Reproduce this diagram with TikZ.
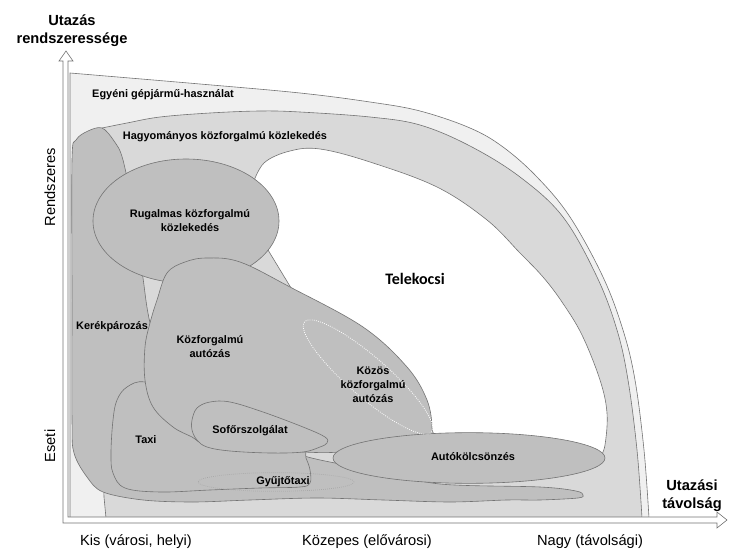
\documentclass[tikz,border=0pt]{standalone}
\usepackage{fontspec}
\setmainfont{Liberation Sans}
\newfontfamily\telefont{Carlito}
\usetikzlibrary{positioning}

\begin{document}
\begin{tikzpicture}[x=0.75pt,y=-0.75pt,
    region/.style={draw=black!55, line width=0.45pt},
    blob/.style={region, fill=black!25},
    lbl/.style={font=\bfseries\fontsize{8.2}{10.5}\selectfont, align=center, inner sep=0pt},
    axislbl/.style={font=\fontsize{11}{13}\selectfont, inner sep=0pt},
    axistitle/.style={font=\bfseries\fontsize{11}{13.5}\selectfont, align=center, inner sep=0pt}]
\useasboundingbox (0,0) rectangle (740,556);

% layers, back to front
\draw[region, fill=black!6] plot[smooth, tension=0.6] coordinates {(70,73) (200,84) (300,93) (370,102) (420,111) (470,128) (503,147) (537,177) (570,217) (603,277) (623,330) (635,380) (644,450) (649,518)} -- (70,518) -- cycle;
\draw[region, fill=black!15] plot[smooth, tension=0.6] coordinates {(102,128) (127,123) (160,117) (210,113) (260,111) (300,112) (370,117) (420,125) (470,146) (520,177) (563,217) (597,277) (617,330) (628,380) (637,450) (642,518)} -- (106,518) -- (104,497) -- (98,300) -- cycle;
\draw[region, fill=white] plot[smooth, tension=0.6] coordinates {(252,186) (264,163) (290,151) (320,149) (370,162) (437,187) (487,220) (520,253) (543,277) (562,302) (582,335) (600,380) (607,413) (605,445) (600,458)} -- (430,450) -- (380,420) -- (302,306) -- (268,250) -- (245,215) -- cycle;

\draw[blob] plot[smooth cycle, tension=0.55] coordinates {(102,128) (114,141) (123,160) (135,220) (143,278) (150,323) (170,400) (250,440) (304,456) (335,463) (380,471) (440,484) (540,487) (576,491) (583,495) (578,498) (540,500) (507,500) (450,502) (383,500) (317,498) (250,500) (193,502) (143,500) (103,492) (87,477) (74,453) (72,420) (72,300) (72,160) (76,140) (88,131)};
\draw[blob] (186,221) ellipse [x radius=69.75pt, y radius=46.5pt];
\draw[blob] plot[smooth cycle, tension=0.6] coordinates {(145,382) (127,387) (117,400) (113,420) (111,453) (113,473) (125,488) (160,492) (210,490) (260,488) (300,487) (310,483) (310,470) (306,458) (300,445) (250,420) (180,395)};
\draw[blob] plot[smooth cycle, tension=0.6] coordinates {(167,273) (185,262) (207,258) (240,262) (290,287) (363,327) (407,367) (427,400) (432,428) (428,436) (380,446) (340,452) (303,452) (250,448) (207,445) (192,437) (173,427) (153,407) (145,380) (145,347) (150,323) (157,300)};
\draw[blob] plot[smooth cycle, tension=0.6] coordinates {(192,420) (197,408) (210,402) (230,402) (263,412) (303,427) (325,437) (327,443) (320,447) (303,452) (270,453) (230,451) (207,447) (197,440) (192,430)};
\draw[blob] (469,458) ellipse [x radius=102pt, y radius=19pt];
\draw[white, densely dotted, line width=0.6pt, rotate around={-41:(368,377)}] (368,377) ellipse [x radius=63pt, y radius=15pt];
\draw[black!35, densely dotted, line width=0.5pt] (276,482) ellipse [x radius=58.5pt, y radius=7pt];

% axes
\draw[black!55, fill=white, line width=0.45pt] (63,523) -- (63,61) -- (59,61) -- (66,51) -- (73,61) -- (68,61) -- (68,517) -- (717,517) -- (717,512) -- (727,520) -- (717,528) -- (717,523) -- cycle;

\node[axistitle] (ytitle) at (72,31) {Utazás\\rendszeressége};
\node[axistitle] (xtitle) at (692,496) {Utazási\\távolság};
\node[axislbl, rotate=90] (rendszeres) at (50,187) {Rendszeres};
\node[axislbl, rotate=90] (eseti) at (50,446) {Eseti};
\node[axislbl] (kis) at (136,542) {Kis (városi, helyi)};
\node[axislbl] (kozepes) at (367,542) {Közepes (elővárosi)};
\node[axislbl] (nagy) at (590,542) {Nagy (távolsági)};

\node[lbl] (egyeni) at (163,95) {Egyéni gépjármű-használat};
\node[lbl] (hagyomanyos) at (225,137) {Hagyományos közforgalmú közlekedés};
\node[lbl] (rugalmas) at (190,221) {Rugalmas közforgalmú\\közlekedés};
\node[lbl] (kerekpar) at (112,327) {Kerékpározás};
\node[lbl] (kozforg) at (210,347) {Közforgalmú\\autózás};
\node[font=\telefont\bfseries\fontsize{12}{14}\selectfont, inner sep=0pt] (telekocsi) at (415,279) {Telekocsi};
\node[lbl] (kozos) at (373,385) {Közös\\közforgalmú\\autózás};
\node[lbl] (taxi) at (146,440) {Taxi};
\node[lbl] (sofor) at (250,431) {Sofőrszolgálat};
\node[lbl] (gyujto) at (283,482) {Gyűjtőtaxi};
\node[lbl] (autokolcson) at (473,457) {Autókölcsönzés};
\end{tikzpicture}
\end{document}
